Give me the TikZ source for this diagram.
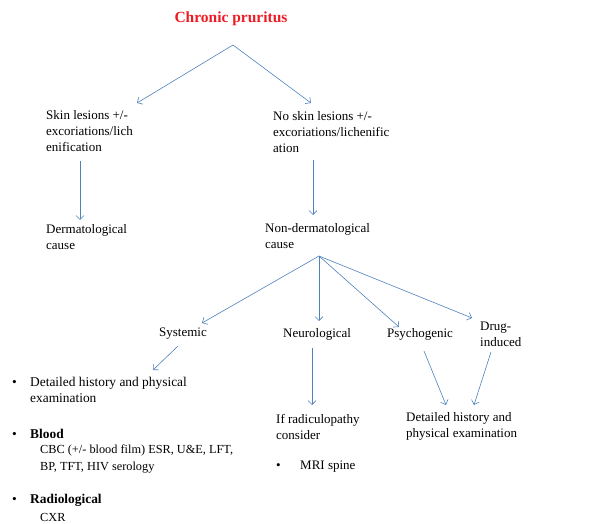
\documentclass[tikz,border=0pt]{standalone}
\usepackage{fontspec}
\setmainfont{Liberation Serif}
\usepackage{xcolor}
\definecolor{arrowblue}{RGB}{79, 129, 189}
\definecolor{titlered}{RGB}{237, 28, 36}
\usepackage{tikz}
\usetikzlibrary{arrows.meta, positioning}

\begin{document}
\begin{tikzpicture}[x=1pt, y=-1pt, >={Straight Barb[length=4pt, width=8pt]},
    txt/.style={anchor=west, align=left, inner sep=0pt, font=\fontsize{13}{15.8}\selectfont},
    item/.style={txt, font=\fontsize{13.4}{16.2}\selectfont},
    sub/.style={txt, font=\fontsize{12.3}{16.2}\selectfont},
    link/.style={->, arrowblue, line width=0.6pt}]
    \useasboundingbox (0,0) rectangle (598,524);

    % top of the tree
    \node[anchor=center, inner sep=0pt, text=titlered, font=\fontsize{15.5}{18}\selectfont\bfseries] (title) at (231,19) {Chronic pruritus};
    \coordinate (topApex) at (233,45);
    \node[txt] (skin) at (46,131) {Skin lesions +/-\\excoriations/lich\\enification};
    \node[txt] (noSkin) at (273,132) {No skin lesions +/-\\excoriations/lichenific\\ation};
    \coordinate (skinTip) at (137,103);
    \coordinate (noSkinTip) at (311,103);
    \draw[link] (topApex) -- (skinTip);
    \draw[link] (topApex) -- (noSkinTip);

    % second level
    \node[txt] (derm) at (46,237) {Dermatological\\cause};
    \node[txt] (nonDerm) at (265,236) {Non-dermatological\\cause};
    \coordinate (skinFoot) at (80,161);
    \coordinate (dermTip) at (80,220);
    \coordinate (noSkinFoot) at (313,160);
    \coordinate (nonDermTip) at (313,215);
    \draw[link] (skinFoot) -- (dermTip);
    \draw[link] (noSkinFoot) -- (nonDermTip);

    % causes
    \coordinate (midApex) at (319,256);
    \node[txt] (systemic) at (159,334) {Systemic};
    \node[txt] (neuro) at (283,334) {Neurological};
    \node[txt] (psycho) at (387,334) {Psychogenic};
    \node[txt] (drug) at (480,334) {Drug-\\induced};
    \coordinate (systemicTip) at (202,323);
    \coordinate (neuroTip) at (319,321);
    \coordinate (psychoTip) at (399,327);
    \coordinate (drugTip) at (472,318);
    \draw[link] (midApex) -- (systemicTip);
    \draw[link] (midApex) -- (neuroTip);
    \draw[link] (midApex) -- (psychoTip);
    \draw[link] (midApex) -- (drugTip);

    % work-up
    \node[item] (histItem) at (12,390) {\makebox[18pt][l]{\textbullet}Detailed history and physical\\\hspace*{18pt}examination};
    \node[item] (bloodItem) at (12,434) {\makebox[18pt][l]{\textbullet}\textbf{Blood}};
    \node[sub] (bloodTests) at (40,459) {CBC (+/- blood film) ESR, U\&E, LFT,\\BP, TFT, HIV serology};
    \node[item] (radioItem) at (12,500) {\makebox[18pt][l]{\textbullet}\textbf{Radiological}};
    \node[sub] (cxr) at (40,517) {CXR};
    \node[txt] (radic) at (276,427) {If radiculopathy\\consider};
    \node[txt] (mri) at (276,467) {\makebox[24pt][l]{\textbullet}MRI spine};
    \node[txt] (history) at (406,426) {Detailed history and\\physical examination};
    \coordinate (systemicFoot) at (178,346);
    \coordinate (histTip) at (153,370);
    \coordinate (neuroFoot) at (312,348);
    \coordinate (radicTip) at (312,405);
    \coordinate (psychoFoot) at (424,351);
    \coordinate (psychoHistTip) at (446,405);
    \coordinate (drugFoot) at (491,352);
    \coordinate (drugHistTip) at (474,405);
    \draw[link] (systemicFoot) -- (histTip);
    \draw[link] (neuroFoot) -- (radicTip);
    \draw[link] (psychoFoot) -- (psychoHistTip);
    \draw[link] (drugFoot) -- (drugHistTip);
\end{tikzpicture}
\end{document}
